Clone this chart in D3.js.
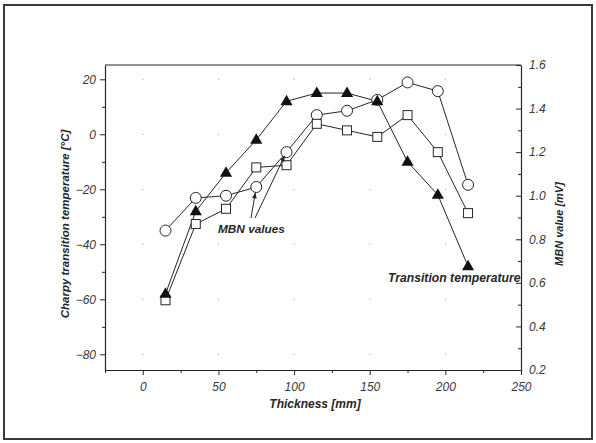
<!DOCTYPE html>
<html>
<head>
<meta charset="utf-8">
<script src="https://cdn.jsdelivr.net/npm/d3@7"></script>
<style>
  body { margin: 0; background: #fff; }
  svg { display: block; font-family: "Liberation Sans", Arial, sans-serif; }
</style>
</head>
<body>
<svg id="chart" width="596" height="443"></svg>
<script>
// thickness positions (mm)
const thickness = [15, 35, 55, 75, 95, 115, 135, 155, 175, 195, 215];
// Charpy transition temperature (°C), left axis
const transitionTemp = [-58, -28, -14, -2, 12, 15, 15, 12, -10, -22, -48];
// MBN values (mV), right axis
const mbnCircles = [0.84, 0.99, 1.00, 1.04, 1.20, 1.37, 1.39, 1.44, 1.52, 1.48, 1.05];
const mbnSquares = [0.52, 0.87, 0.94, 1.13, 1.14, 1.33, 1.30, 1.27, 1.37, 1.20, 0.92];

const xTicks = [0, 50, 100, 150, 200, 250];
const yLeftTicks = [-80, -60, -40, -20, 0, 20];
const yRightTicks = [0.2, 0.4, 0.6, 0.8, 1.0, 1.2, 1.4, 1.6];

const ink = '#262626';
const margin = { left: 105, right: 521, top: 65, bottom: 370 };

const svg = d3.select('#chart');

// outer frame of the figure
svg.append('rect')
  .attr('x', 4).attr('y', 5)
  .attr('width', 588).attr('height', 434)
  .style('fill', 'none')
  .style('stroke', '#3a3a3a')
  .style('stroke-width', 2);

const x = d3.scaleLinear().domain([-25, 250]).range([margin.left, margin.right]);
const yL = d3.scaleLinear().domain([-85.7, 25.2]).range([margin.bottom, margin.top]);
const yR = d3.scaleLinear().domain([0.2, 1.6]).range([margin.bottom, margin.top]);

//сетка из точек на пересечениях
const gridPts = [];
xTicks.filter(v => v < 250).forEach(xv => yLeftTicks.forEach(yv => gridPts.push([xv, yv])));
svg.append('g').selectAll('rect')
  .data(gridPts)
  .enter().append('rect')
  .attr('x', d => x(d[0]) - 0.5)
  .attr('y', d => yL(d[1]) - 0.5)
  .attr('width', 1.2).attr('height', 1.2)
  .style('fill', '#b8b8b8');

// frame lines
svg.append('line')
  .attr('x1', margin.left).attr('x2', margin.right)
  .attr('y1', margin.top).attr('y2', margin.top)
  .style('stroke', ink);

const styleAxis = (g) => {
  g.select('.domain').style('stroke', ink).style('stroke-width', 1.2);
  g.selectAll('.tick line').style('stroke', ink);
  g.selectAll('.tick text')
    .style('font-size', '12px')
    .style('font-style', 'italic')
    .style('fill', '#3a3a3a');
};

// bottom axis
const xAxis = svg.append('g')
  .attr('transform', `translate(0,${margin.bottom})`)
  .call(d3.axisBottom(x).tickValues(xTicks).tickSize(5).tickPadding(7).tickSizeOuter(0));
styleAxis(xAxis);
svg.append('g')
  .attr('transform', `translate(0,${margin.bottom})`)
  .call(d3.axisBottom(x).tickValues([-25, 25, 75, 125, 175, 225]).tickSize(3).tickFormat('').tickSizeOuter(0))
  .call(g => g.select('.domain').remove())
  .selectAll('line').style('stroke', ink);

// left axis
const yLAxis = svg.append('g')
  .attr('transform', `translate(${margin.left},0)`)
  .call(d3.axisLeft(yL).tickValues(yLeftTicks).tickSize(5).tickPadding(4).tickSizeOuter(0));
styleAxis(yLAxis);
svg.append('g')
  .attr('transform', `translate(${margin.left},0)`)
  .call(d3.axisLeft(yL).tickValues([-70, -50, -30, -10, 10]).tickSize(3).tickFormat('').tickSizeOuter(0))
  .call(g => g.select('.domain').remove())
  .selectAll('line').style('stroke', ink);

// right axis (ticks inward)
const yRAxis = svg.append('g')
  .attr('transform', `translate(${margin.right},0)`)
  .call(d3.axisRight(yR).tickValues(yRightTicks).tickSize(-5).tickPadding(8)
    .tickFormat(d3.format('.1f')).tickSizeOuter(0));
styleAxis(yRAxis);
svg.append('g')
  .attr('transform', `translate(${margin.right},0)`)
  .call(d3.axisRight(yR).tickValues([0.3, 0.5, 0.7, 0.9, 1.1, 1.3, 1.5]).tickSize(-3).tickFormat('').tickSizeOuter(0))
  .call(g => g.select('.domain').remove())
  .selectAll('line').style('stroke', ink);

// axis titles
const titleStyle = sel => sel
  .style('font-size', '11.5px')
  .style('font-weight', 'bold')
  .style('font-style', 'italic')
  .style('fill', ink)
  .attr('text-anchor', 'middle');

svg.append('text')
  .attr('transform', 'translate(69,224) rotate(-90)')
  .call(titleStyle)
  .text('Charpy transition temperature [°C]');

svg.append('text')
  .attr('transform', 'translate(563,224) rotate(-90)')
  .call(titleStyle)
  .style('font-size', '11px')
  .text('MBN value [mV]');

svg.append('text')
  .attr('x', 315).attr('y', 408)
  .call(titleStyle)
  .style('font-size', '12px')
  .text('Thickness [mm]');

// series lines
const lineL = d3.line().x(d => x(d[0])).y(d => yL(d[1]));
const lineR = d3.line().x(d => x(d[0])).y(d => yR(d[1]));
const zip = vals => thickness.map((t, i) => [t, vals[i]]);

[[lineR, mbnCircles], [lineR, mbnSquares], [lineL, transitionTemp]].forEach(([gen, vals]) => {
  svg.append('path')
    .attr('d', gen(zip(vals)))
    .style('fill', 'none')
    .style('stroke', ink)
    .style('stroke-width', 1);
});

// markers
svg.append('g').selectAll('circle')
  .data(zip(mbnCircles))
  .enter().append('circle')
  .attr('cx', d => x(d[0]))
  .attr('cy', d => yR(d[1]))
  .attr('r', 5.5)
  .style('fill', '#fff')
  .style('stroke', ink);

svg.append('g').selectAll('rect')
  .data(zip(mbnSquares))
  .enter().append('rect')
  .attr('x', d => x(d[0]) - 4.5)
  .attr('y', d => yR(d[1]) - 4.5)
  .attr('width', 9).attr('height', 9)
  .style('fill', '#fff')
  .style('stroke', ink);

const tri = d3.symbol().type(d3.symbolTriangle).size(64);
svg.append('g').selectAll('path')
  .data(zip(transitionTemp))
  .enter().append('path')
  .attr('d', tri)
  .attr('transform', d => `translate(${x(d[0])},${yL(d[1]) + 0.5})`)
  .style('fill', '#111');

//аннотации с указателями
svg.append('defs').append('marker')
  .attr('id', 'head')
  .attr('viewBox', '0 0 10 10')
  .attr('refX', 9).attr('refY', 5)
  .attr('markerWidth', 6).attr('markerHeight', 6)
  .attr('orient', 'auto')
  .append('path')
  .attr('d', 'M0,1 L10,5 L0,9 Z')
  .style('fill', ink);

const pointers = [
  { from: [251, 218], to: [x(75) - 1, yR(mbnCircles[3]) + 6] },
  { from: [255, 218], to: [x(95) - 2, yR(mbnCircles[4]) + 4] }
];
svg.append('g').selectAll('line')
  .data(pointers)
  .enter().append('line')
  .attr('x1', d => d.from[0]).attr('y1', d => d.from[1])
  .attr('x2', d => d.to[0]).attr('y2', d => d.to[1])
  .attr('marker-end', 'url(#head)')
  .style('stroke', ink);

svg.append('text')
  .attr('x', 218).attr('y', 233)
  .call(titleStyle)
  .attr('text-anchor', 'start')
  .style('font-size', '11.8px')
  .text('MBN values');

svg.append('text')
  .attr('x', 388).attr('y', 282)
  .call(titleStyle)
  .attr('text-anchor', 'start')
  .style('font-size', '12.2px')
  .text('Transition temperature');
</script>
</body>
</html>
